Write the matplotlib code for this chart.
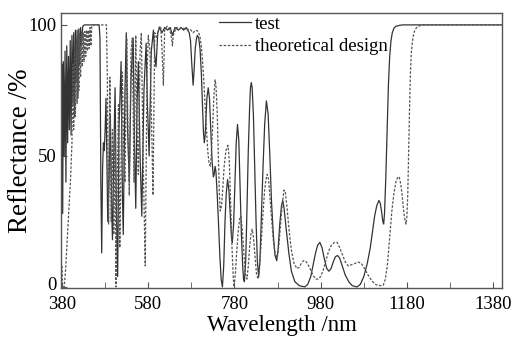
import matplotlib
matplotlib.use("Agg")
import matplotlib.pyplot as plt
from matplotlib.transforms import ScaledTranslation

# ---- data (wavelength nm, reflectance %) ----
test_wl = [380, 381.5, 383, 385, 387, 389, 391, 393, 395, 397, 399, 401, 403, 405, 407, 409, 411, 413,
           415, 417, 419, 421, 423, 425, 428, 432, 466, 468, 470, 472, 474, 476, 478, 480, 482, 486,
           489, 492, 495, 497, 500, 503, 506, 509, 512, 517, 520, 522, 526, 529, 532, 536, 540, 545,
           548, 551, 554, 557, 561, 565, 570, 575, 578, 582, 587, 592, 595, 598, 602, 606, 612, 618,
           625, 631, 636, 642, 650, 656, 662, 668, 675, 678, 681, 684, 686, 689, 692, 694, 697, 700,
           703, 706, 708, 710, 712, 714, 716, 719, 722, 725, 728, 731, 733, 735, 737, 740, 743, 746,
           749, 752, 755, 758, 761, 764, 767, 770, 773, 775, 778, 781, 784, 787, 790, 793, 796, 799,
           801, 803, 806, 809, 812, 815, 817, 819, 821, 824, 827, 830, 833, 836, 839, 842, 846, 850,
           854, 858, 862, 866, 870, 874, 878, 881, 885, 889, 892, 895, 900, 906, 912, 920, 930, 943,
           950, 957, 963, 968, 973, 978, 983, 988, 994, 999, 1004, 1009, 1014, 1019, 1024, 1030, 1037,
           1045, 1053, 1064, 1072, 1080, 1088, 1095, 1100, 1105, 1110, 1115, 1118, 1121, 1124, 1126,
           1128, 1131, 1134, 1137, 1140, 1143, 1146, 1150, 1155, 1162, 1170, 1400]
test_r = [85, 28, 86, 50, 90, 40, 92, 55, 88, 60, 94, 58, 96, 70, 97, 65, 98, 78,
          98, 72, 98.5, 85, 99, 92, 99.5, 100, 100, 95, 40, 13, 45, 55, 52, 60, 72, 25,
          40, 66, 30, 18, 50, 76, 30, 4, 60, 86, 35, 20, 75, 97, 60, 40, 80, 95,
          55, 30, 70, 86, 50, 27, 75, 93, 70, 50, 90, 98, 88, 84, 97, 99, 97, 99,
          98, 99, 96, 99, 98, 99, 98, 99, 97, 94, 85, 77, 82, 91, 95, 96, 95, 91,
          82, 68, 59, 55, 58, 65, 72, 76, 72, 60, 48, 42, 43, 46, 44, 35, 24, 12,
          3, 0, 8, 25, 36, 41, 37, 28, 19, 17, 24, 40, 55, 62, 56, 38, 20, 8,
          3, 2, 10, 30, 52, 68, 76, 78, 76, 65, 45, 25, 10, 4, 10, 25, 45, 62,
          71, 66, 50, 32, 20, 12, 10, 14, 24, 31, 33, 30, 22, 13, 6, 2, 0.5, 0,
          1, 4, 9, 13, 16, 17, 15, 11, 7, 6, 7, 9.5, 11.5, 12, 11, 8, 4.5,
          2, 0.5, 0, 1, 4, 9, 15, 21, 27, 31, 33, 32, 29, 25, 24,
          28, 42, 60, 77, 88, 94, 97, 98.8, 99.5, 99.8, 100, 100]

theo_wl = [380, 381, 383, 385, 388, 392, 396, 400, 403, 405, 407, 409, 411, 413, 415, 417, 419, 421,
           423, 425, 427, 429, 431, 433, 435, 437, 439, 441, 443, 445, 447, 449, 452, 483, 485, 488,
           491, 494, 497, 500, 503, 505, 508, 511, 514, 517, 520, 523, 526, 530, 533, 536, 540, 543,
           547, 551, 554, 557, 561, 564, 568, 573, 577, 580, 584, 588, 591, 595, 600, 605, 609, 612,
           615, 618, 624, 630, 634, 636, 638, 645, 652, 660, 668, 676, 684, 690, 696, 700, 703, 706,
           709, 712, 715, 718, 721, 724, 726, 729, 732, 735, 737, 740, 743, 745, 747, 750, 753, 756,
           760, 765, 768, 771, 774, 777, 779, 782, 785, 789, 792, 795, 798, 802, 805, 809, 812, 815,
           818, 821, 824, 828, 831, 835, 838, 842, 846, 850, 853, 856, 859, 862, 866, 870, 874, 879,
           883, 887, 891, 895, 898, 902, 907, 912, 918, 925, 930, 935, 940, 944, 949, 955, 962, 968,
           974, 980, 986, 992, 998, 1005, 1012, 1018, 1024, 1030, 1037, 1044, 1052, 1060, 1067, 1074,
           1082, 1090, 1098, 1105, 1112, 1120, 1125, 1130, 1135, 1140, 1145, 1150, 1155, 1159, 1162,
           1166, 1170, 1173, 1176, 1178, 1180, 1182, 1184, 1186, 1188, 1190, 1193, 1196, 1200, 1205,
           1212, 1217, 1400]
theo_r = [8, 1, 0, 0, 6, 18, 30, 42, 55, 85, 60, 90, 65, 93, 70, 95, 75, 96,
          80, 97, 84, 97, 86, 97.5, 88, 98, 90, 98, 91, 99, 92, 99.5, 100, 100, 80, 24,
          80, 25, 60, 20, 60, 0, 40, 70, 15, 50, 82, 50, 40, 95, 60, 35, 90, 95,
          40, 96, 60, 43, 90, 97, 50, 8, 80, 96, 90, 60, 35, 97, 95, 99, 99.5, 90,
          77, 98, 99.5, 98, 95, 92, 96, 99, 98.5, 99, 98, 98.5, 97, 98, 97.5, 95.5, 92, 86,
          78, 69, 60, 52, 47, 46, 50, 60, 72, 79, 77, 66, 47, 35, 29, 31, 38, 46,
          52, 54, 48, 32, 16, 4, 0, 5, 13, 22, 26, 27, 22, 12, 5, 3, 8, 15,
          20, 22, 19, 11, 5, 3, 7, 17, 28, 37, 41, 43, 41, 35, 26, 18, 13, 11,
          16, 24, 32, 37, 36, 30, 21, 14, 9, 7, 7.5, 9, 10, 10, 9, 7, 4.5, 3,
          3, 4, 6.5, 10, 13.5, 16, 17, 17, 15, 12.5, 9.5, 8, 8.5, 9, 9.5, 9,
          7, 4.5, 2.5, 1.2, 0.6, 0.5, 0.6, 3, 9, 19, 29, 36, 40.5, 42, 42,
          39, 33, 28, 25, 24, 27, 36, 52, 68, 81, 89, 94, 97, 98.5, 99.4,
          99.8, 100, 100]

x_ticks = [380, 580, 780, 980, 1180, 1380]
x_minor = [480, 680, 880, 1080, 1280]
y_ticks = [0, 50, 100]

plt.rcParams['font.family'] = ['Liberation Serif', 'DejaVu Serif']
fs = 13.5

fig = plt.figure(figsize=(5.13, 3.38), dpi=100)
ax = fig.add_axes([0.119, 0.148, 0.86, 0.814])

ax.plot(test_wl, test_r, color='#333333', lw=0.9, label='test')
ax.plot(theo_wl, theo_r, color='#555555', lw=0.9, linestyle=(0, (2.0, 1.3)), label='theoretical design')

ax.set_xlim(377.7, 1401)
ax.set_ylim(-0.4, 104.6)
ax.set_xticks(x_ticks)
ax.set_xticks(x_minor, minor=True)
ax.set_yticks(y_ticks)
ax.tick_params(axis='both', which='both', direction='in', labelsize=fs, color='#555555')
ax.tick_params(axis='x', which='both', pad=6)
ax.tick_params(axis='y', which='both', pad=3)
ax.tick_params(which='major', length=4)
ax.tick_params(which='minor', length=4)
for s in ax.spines.values():
    s.set_color('#555555')
    s.set_linewidth(1.0)

ax.set_xlabel('Wavelength /nm', fontsize=16.5, labelpad=1)
ax.set_ylabel('Reflectance /%', fontsize=19.5, labelpad=-3)

leg = ax.legend(loc='upper left', bbox_to_anchor=(0.357, 0.99), frameon=False, fontsize=fs,
                handlelength=1.75, handletextpad=0.2, labelspacing=0.3, borderpad=0.0,
                borderaxespad=0.0)

# nudge the "0" label up slightly so it does not collide with "380"
zero_lbl = ax.yaxis.get_major_ticks()[0].label1
zero_lbl.set_transform(zero_lbl.get_transform() + ScaledTranslation(0, 3.5 / 100, fig.dpi_scale_trans))

fig.savefig('out.png', dpi=100)
